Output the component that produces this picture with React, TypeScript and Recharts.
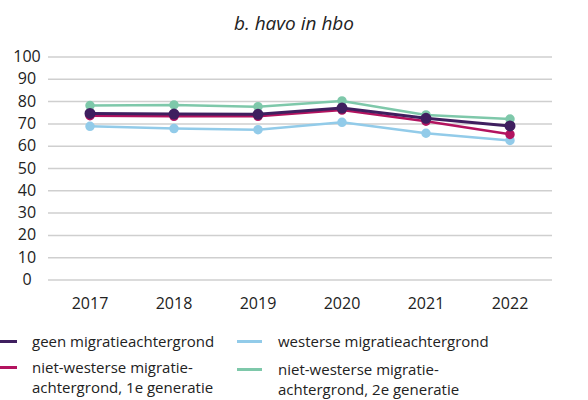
import React from "react";
import { LineChart, Line, XAxis, YAxis, CartesianGrid } from "recharts";

const years = ["2017", "2018", "2019", "2020", "2021", "2022"];
const geen = [74.7, 74.4, 74.3, 77.1, 72.5, 69.1];
const eersteGen = [73.7, 73.4, 73.4, 76.2, 71.2, 65.3];
const westers = [68.9, 67.9, 67.4, 70.7, 65.8, 62.6];
const tweedeGen = [78.2, 78.5, 77.7, 80.3, 74.0, 72.2];
const yTicks = [0, 10, 20, 30, 40, 50, 60, 70, 80, 90, 100];

const data = years.map((y, i) => ({
  year: y,
  geen: geen[i],
  eersteGen: eersteGen[i],
  westers: westers[i],
  tweedeGen: tweedeGen[i],
}));

const FONT = "'Open Sans', sans-serif";
const C_GEEN = "#3f1f5f";
const C_1E = "#b3135f";
const C_WEST = "#92cbe9";
const C_2E = "#7ec8aa";

const YTick = (props: any) => {
  const { y, payload } = props;
  return (
    <text x={27} y={y} dy={5} textAnchor="middle" fontFamily={FONT} fontSize={16} fill="#222">
      {payload.value}
    </text>
  );
};

const legendItem = (color: string, lines: string[], left: number, top: number) => (
  <div style={{ position: "absolute", left, top, fontFamily: FONT, fontSize: 15, color: "#222", lineHeight: "20px", whiteSpace: "nowrap" }}>
    <div style={{ position: "absolute", left: 0, top: 9, width: left > 100 ? 25 : 17, height: 3, background: color }} />
    <div style={{ marginLeft: left > 100 ? 41 : 32 }}>
      {lines.map((l, i) => (
        <div key={i}>{l}</div>
      ))}
    </div>
  </div>
);

export default function App() {
  return (
    <div style={{ position: "absolute", left: 0, top: 0, width: 588, height: 400, background: "#fff", overflow: "hidden" }}>
      <div style={{ position: "absolute", left: 0, width: 588, top: 10, textAlign: "center", fontFamily: FONT, fontStyle: "italic", fontSize: 19, color: "#222" }}>
        b. havo in hbo
      </div>
      <LineChart width={588} height={400} data={data} margin={{ top: 57, right: 36, left: 0, bottom: 0 }}>
        <CartesianGrid vertical={false} stroke="#cfcfcf" strokeWidth={1.5} />
        <XAxis dataKey="year" axisLine={false} tickLine={false} height={120} tickMargin={12} padding={{ left: 42, right: 42 }}
          tick={{ fontFamily: FONT, fontSize: 16, fill: "#222" }} />
        <YAxis domain={[0, 100]} ticks={yTicks} width={48} axisLine={false} tickLine={false} tick={<YTick />} interval={0} />
        <Line dataKey="westers" stroke={C_WEST} strokeWidth={2.5} dot={{ r: 3.5, fill: C_WEST, stroke: C_WEST }} isAnimationActive={false} />
        <Line dataKey="tweedeGen" stroke={C_2E} strokeWidth={2.5} dot={{ r: 3.5, fill: C_2E, stroke: C_2E }} isAnimationActive={false} />
        <Line dataKey="eersteGen" stroke={C_1E} strokeWidth={2.5} dot={{ r: 3.5, fill: C_1E, stroke: C_1E }} isAnimationActive={false} />
        <Line dataKey="geen" stroke={C_GEEN} strokeWidth={3} dot={{ r: 4, fill: C_GEEN, stroke: C_GEEN }} isAnimationActive={false} />
      </LineChart>
      {legendItem(C_GEEN, ["geen migratieachtergrond"], 0, 331)}
      {legendItem(C_1E, ["niet-westerse migratie-", "achtergrond, 1e generatie"], 0, 357)}
      {legendItem(C_WEST, ["westerse migratieachtergrond"], 237, 331)}
      {legendItem(C_2E, ["niet-westerse migratie-", "achtergrond, 2e generatie"], 237, 359)}
    </div>
  );
}
